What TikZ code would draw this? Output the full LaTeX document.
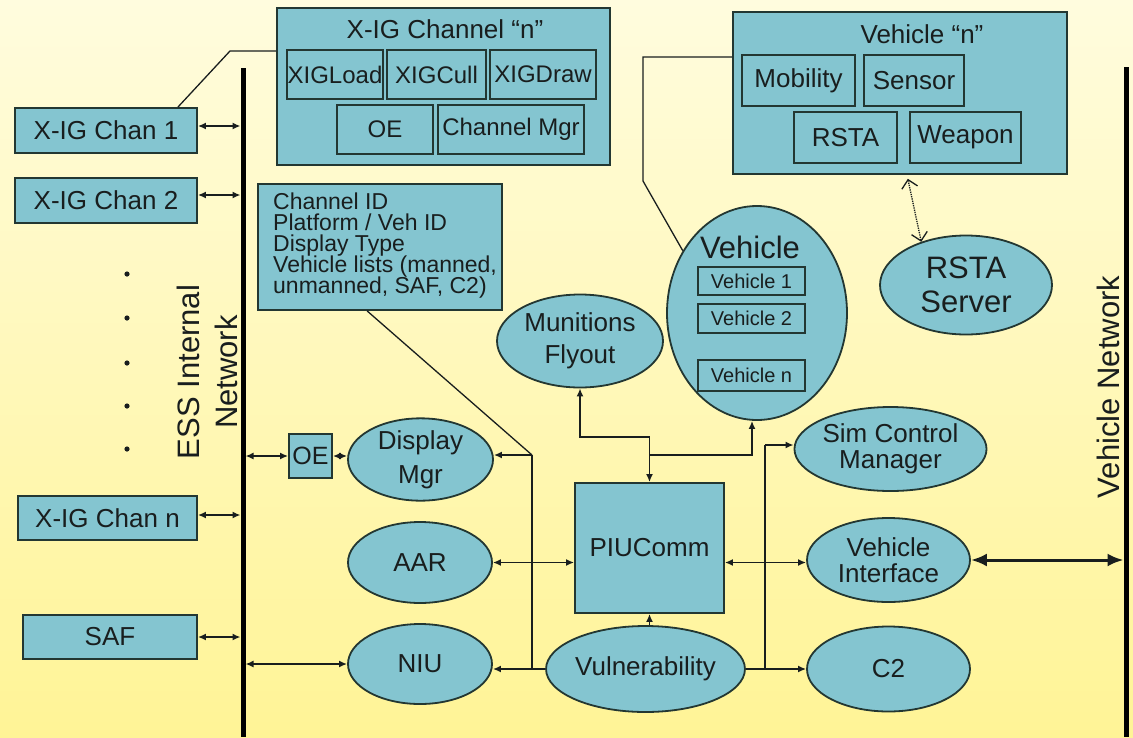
\documentclass[tikz,border=0pt]{standalone}
\usepackage{fontspec}
\setmainfont{Liberation Sans}
\usetikzlibrary{arrows.meta,shapes.geometric,calc}
\definecolor{bgtop}{RGB}{255,252,222}
\definecolor{bgmid}{RGB}{255,248,172}
\definecolor{bgbot}{RGB}{255,244,150}
\definecolor{boxfill}{RGB}{132,197,208}
\definecolor{edge}{RGB}{35,55,50}
\definecolor{ink}{RGB}{25,30,30}
\newcommand{\fsz}[2]{\fontsize{#1}{#2}\selectfont\lineskiplimit=-30pt}
\tikzset{
 box/.style={draw=edge, fill=boxfill, line width=1.8pt, inner sep=0pt, text=ink, font=\fsz{26}{30}},
 oval/.style={ellipse, draw=edge, fill=boxfill, line width=1.8pt, inner sep=0pt, text=ink, align=center, font=\fsz{26}{30}},
 inbox/.style={draw=edge, line width=1.6pt, inner sep=0pt, text=ink},
 conn/.style={draw=ink, line width=1.9pt},
 arr/.style={-{Latex[length=8pt,width=7pt]}},
 darr/.style={{Latex[length=8pt,width=7pt]}-{Latex[length=8pt,width=7pt]}},
 bus/.style={line width=5pt, draw=black},
 callout/.style={draw=ink, line width=1.3pt},
 lbl/.style={text=ink, inner sep=0pt},
}
\begin{document}
\begin{tikzpicture}[x=1pt,y=-1pt]
\shade[top color=bgtop, middle color=bgmid, bottom color=bgbot] (0,0) rectangle (1133,737);
\useasboundingbox (0,0) rectangle (1133,737);

% buses
\coordinate (essT) at (243,68); \coordinate (essB) at (243,737);
\coordinate (vnT) at (1126,67); \coordinate (vnB) at (1126,737);
\draw[bus] (essT) -- (essB);
\draw[bus] (vnT) -- (vnB);
\node[lbl, rotate=90, align=center, font=\fsz{31}{38}] (esslbl) at (207,372) {ESS Internal\\Network};
\node[lbl, rotate=90, font=\fsz{31}{36}] (vnlbl) at (1108,387) {Vehicle Network};

% left boxes
\node[box, minimum width=182pt, minimum height=45pt] (chan1) at (106,130.5) {X-IG Chan 1};
\node[box, minimum width=182pt, minimum height=45pt] (chan2) at (106,200.5) {X-IG Chan 2};
\node[box, minimum width=179pt, minimum height=44pt] (chann) at (107.5,518) {X-IG Chan n};
\node[box, minimum width=174pt, minimum height=44pt] (saf) at (110,637) {SAF};
\foreach \yy in {274,318,363,406,449} \fill[ink] (127,\yy) circle (2.6pt);

% X-IG channel n
\node[box, minimum width=333pt, minimum height=157pt] (xig) at (443.5,86.5) {};
\node[lbl, font=\fsz{26}{30}] (xigt) at (445,29) {X-IG Channel “n”};
\node[inbox, minimum width=96pt, minimum height=49pt, font=\fsz{24}{28}] (xload) at (335,74.5) {XIGLoad};
\node[inbox, minimum width=99pt, minimum height=49pt, font=\fsz{24}{28}] (xcull) at (436.5,74.5) {XIGCull};
\node[inbox, minimum width=106pt, minimum height=49pt, font=\fsz{24}{28}] (xdraw) at (543,74.5) {XIGDraw};
\node[inbox, minimum width=96pt, minimum height=49pt, font=\fsz{24}{28}] (xoe) at (385,129.5) {OE};
\node[inbox, minimum width=146pt, minimum height=49pt, font=\fsz{24}{28}] (xmgr) at (511,129.5) {Channel Mgr};

% info box
\node[box, minimum width=244pt, minimum height=126pt] (info) at (380,247) {};
\node[lbl, anchor=north west, align=left, font=\fsz{23}{21}] (infot) at (273,193) {Channel ID\\Platform / Veh ID\\Display Type\\Vehicle lists (manned,\\unmanned, SAF, C2)};

% Vehicle n
\node[box, minimum width=334pt, minimum height=162pt] (vehn) at (900,93) {};
\node[lbl, font=\fsz{26}{30}] (vehnt) at (922,34) {Vehicle “n”};
\node[inbox, minimum width=113pt, minimum height=51pt, font=\fsz{26}{30}] (mob) at (798.5,80.5) {Mobility};
\node[inbox, minimum width=100pt, minimum height=51pt, font=\fsz{26}{30}] (sens) at (914,80.5) {Sensor};
\node[inbox, minimum width=103pt, minimum height=51pt, font=\fsz{26}{30}] (rsta) at (845.5,137.5) {RSTA};
\node[inbox, minimum width=111pt, minimum height=51pt, font=\fsz{26}{30}] (weap) at (965.5,137.5) {Weapon};

\node[oval, minimum width=172pt, minimum height=99pt, font=\fsz{31}{34}] (rsrv) at (966,285) {RSTA\\Server};

% Vehicle ellipse
\node[oval, minimum width=180pt, minimum height=214pt] (veh) at (757,313) {};
\node[lbl, font=\fsz{31}{34}] (vehT) at (750,247) {Vehicle};
\node[inbox, minimum width=107pt, minimum height=28pt, font=\fsz{20}{24}] (v1) at (751.5,281) {Vehicle 1};
\node[inbox, minimum width=107pt, minimum height=29pt, font=\fsz{20}{24}] (v2) at (751.5,318.5) {Vehicle 2};
\node[inbox, minimum width=107pt, minimum height=31pt, font=\fsz{20}{24}] (vn) at (751.5,375.5) {Vehicle n};

% middle nodes
\node[oval, minimum width=166pt, minimum height=93pt, font=\fsz{26}{32}] (mun) at (580,341) {Munitions\\Flyout};
\node[box, minimum width=43pt, minimum height=44pt, font=\fsz{25}{28}] (oe) at (310.5,456) {OE};
\node[oval, minimum width=145pt, minimum height=81pt, font=\fsz{26}{34}] (dmgr) at (420.5,459.5) {Display\\Mgr};
\node[oval, minimum width=144pt, minimum height=81pt] (aar) at (420,562.5) {AAR};
\node[oval, minimum width=144pt, minimum height=80pt] (niu) at (420,664) {NIU};
\node[box, minimum width=149pt, minimum height=130pt] (piu) at (649.5,548) {PIUComm};
\node[oval, minimum width=161pt, minimum height=86pt] (vul) at (645.5,669) {Vulnerability};
\node[oval, minimum width=163pt, minimum height=84pt, font=\fsz{26}{25.5}] (sim) at (890.5,449) {Sim Control\\Manager};
\node[oval, minimum width=163pt, minimum height=84pt, font=\fsz{26}{25.5}] (vi) at (888.5,560) {Vehicle\\Interface};
\node[oval, minimum width=163pt, minimum height=85pt] (c2) at (888.5,669) {C2};

% bus connections
\draw[conn, darr, shorten >=2.5pt] ([yshift=4.5pt]chan1.east) -- ([yshift=4.5pt]chan1.east -| essT);
\draw[conn, darr, shorten >=2.5pt] ([yshift=5.5pt]chan2.east) -- ([yshift=5.5pt]chan2.east -| essT);
\draw[conn, darr, shorten >=2.5pt] ([yshift=3pt]chann.east) -- ([yshift=3pt]chann.east -| essT);
\draw[conn, darr, shorten >=2.5pt] (saf.east) -- (saf.east -| essT);
\draw[conn, darr, shorten <=2.5pt] (oe.west -| essT) -- (oe.west);
\draw[conn, darr] (oe.east) -- (dmgr.west |- oe.east);
\draw[conn, darr, shorten <=2.5pt] (niu.west -| essT) -- (niu.west);

% left junction
\coordinate (jA) at (532,455);
\draw[conn, arr] (jA) -- (dmgr.east |- jA);
\draw[conn] (jA) -- (jA |- vul.west);
\draw[conn, arr] (vul.west) -- (niu.east |- vul.west);
\draw[callout] ($(info.south west)+(110,0)$) -- (jA);

% PIUComm links
\draw[conn, darr] (aar.east) -- (piu.west |- aar.east);
\draw[conn, darr] (piu.east |- aar.east) -- (vi.west |- aar.east);
\draw[draw=ink, line width=3pt, {Latex[length=16pt,width=13pt]}-{Latex[length=16pt,width=13pt]}, shorten >=2.5pt] (vi.east) -- (vi.east -| vnT);
\coordinate (yM) at (0,437);
\coordinate (yV) at (0,455);
\draw[conn, darr] (mun.south) -- (mun.south |- yM) -- (piu.north |- yM) -- (piu.north);
\draw[conn, arr] (piu.north |- yV) -- ([xshift=-5pt]veh.south |- yV) -- ([xshift=-5pt]veh.south);
\draw[conn, arr] (piu.south |- vul.north) -- (piu.south);
\draw[conn, arr] (vul.east) -- (c2.west |- vul.east);
\coordinate (jS) at (765,445);
\draw[conn] (jS) -- (jS |- vul.east);
\draw[conn, arr] (jS) -- (sim.west |- jS);

% callouts
\coordinate (cA) at (230,51);
\draw[callout] ([xshift=-20pt]chan1.north east) -- (cA) -- (cA -| xig.west);
\coordinate (cB) at (643,57);
\coordinate (cC) at (643,181);
\draw[callout] (vehn.west |- cB) -- (cB) -- (cC) -- (veh.140);

% dotted RSTA link
\draw[draw=ink, line width=1.3pt, densely dotted, shorten <=4pt, {Straight Barb[length=8pt,width=16pt]}-{Straight Barb[length=8pt,width=16pt]}] ([xshift=7pt]vehn.south) -- (rsrv.136);
\end{tikzpicture}
\end{document}
